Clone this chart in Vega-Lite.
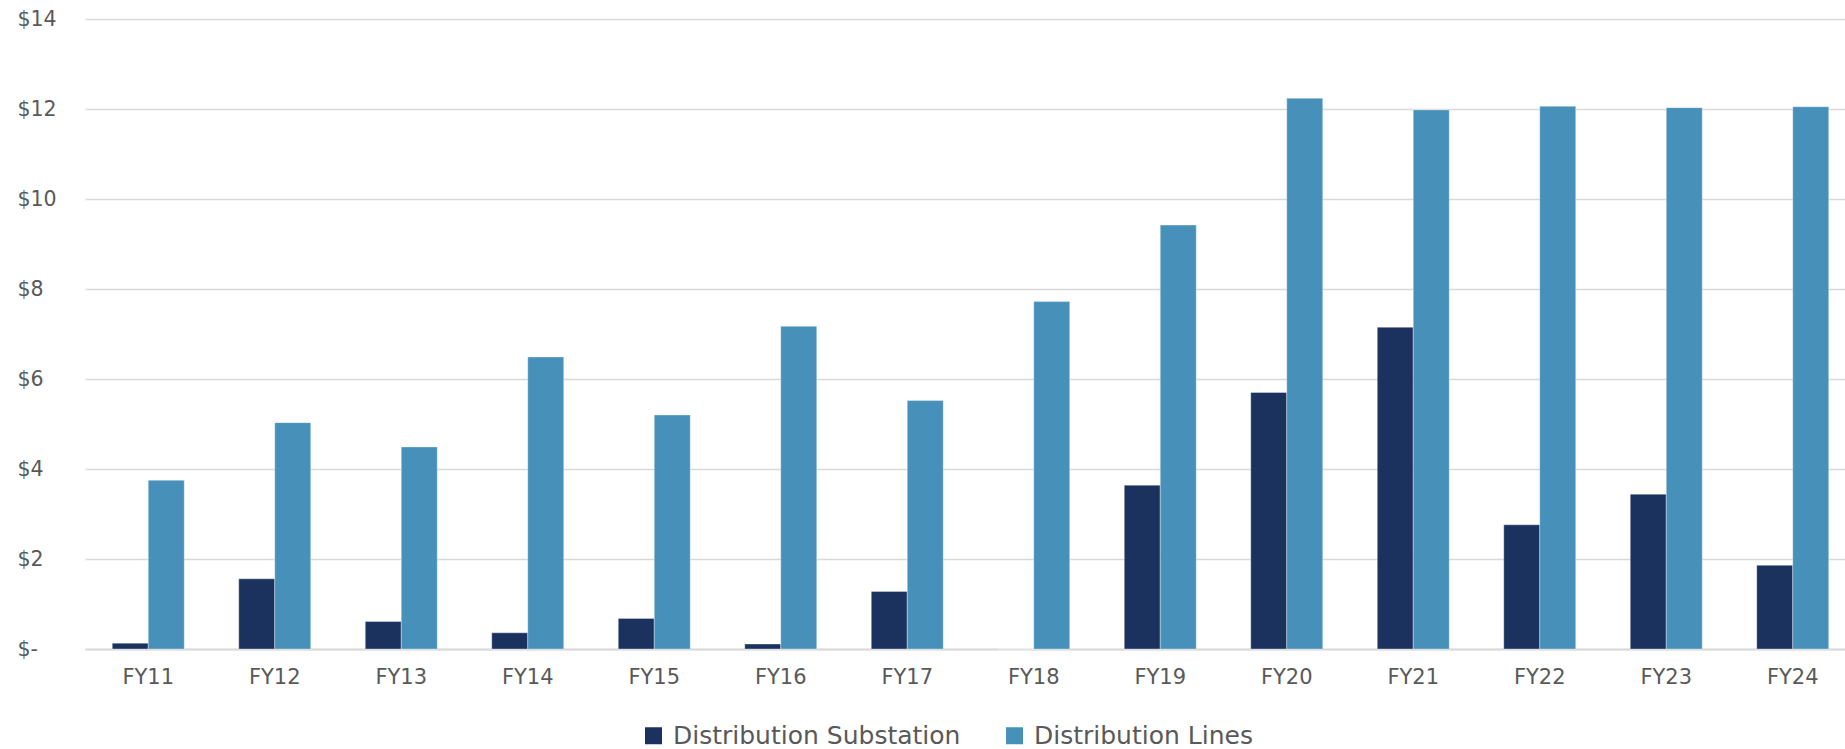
{
  "$schema": "https://vega.github.io/schema/vega-lite/v6.json",
  "width": 1760,
  "height": 630,
  "autosize": {"type": "none"},
  "padding": {"left": 85, "top": 19, "right": 0, "bottom": 100},
  "background": "white",
  "config": {
    "view": {"stroke": null},
    "font": "DejaVu Sans",
    "axis": {"labelFont": "DejaVu Sans", "labelColor": "#595959"},
    "legend": {"labelFont": "DejaVu Sans", "padding": 0}
  },
  "data": {
    "values": [
      {"year": "FY11", "series": "Distribution Substation", "value": 0.13},
      {"year": "FY11", "series": "Distribution Lines", "value": 3.75},
      {"year": "FY12", "series": "Distribution Substation", "value": 1.56},
      {"year": "FY12", "series": "Distribution Lines", "value": 5.03},
      {"year": "FY13", "series": "Distribution Substation", "value": 0.61},
      {"year": "FY13", "series": "Distribution Lines", "value": 4.49},
      {"year": "FY14", "series": "Distribution Substation", "value": 0.36},
      {"year": "FY14", "series": "Distribution Lines", "value": 6.49},
      {"year": "FY15", "series": "Distribution Substation", "value": 0.68},
      {"year": "FY15", "series": "Distribution Lines", "value": 5.2},
      {"year": "FY16", "series": "Distribution Substation", "value": 0.11},
      {"year": "FY16", "series": "Distribution Lines", "value": 7.17},
      {"year": "FY17", "series": "Distribution Substation", "value": 1.28},
      {"year": "FY17", "series": "Distribution Lines", "value": 5.52},
      {"year": "FY18", "series": "Distribution Substation", "value": 0},
      {"year": "FY18", "series": "Distribution Lines", "value": 7.72},
      {"year": "FY19", "series": "Distribution Substation", "value": 3.64},
      {"year": "FY19", "series": "Distribution Lines", "value": 9.42},
      {"year": "FY20", "series": "Distribution Substation", "value": 5.7},
      {"year": "FY20", "series": "Distribution Lines", "value": 12.24},
      {"year": "FY21", "series": "Distribution Substation", "value": 7.15},
      {"year": "FY21", "series": "Distribution Lines", "value": 11.98},
      {"year": "FY22", "series": "Distribution Substation", "value": 2.76},
      {"year": "FY22", "series": "Distribution Lines", "value": 12.06},
      {"year": "FY23", "series": "Distribution Substation", "value": 3.44},
      {"year": "FY23", "series": "Distribution Lines", "value": 12.03},
      {"year": "FY24", "series": "Distribution Substation", "value": 1.86},
      {"year": "FY24", "series": "Distribution Lines", "value": 12.05}
    ]
  },
  "mark": {"type": "bar", "stroke": "#ffffff", "strokeOpacity": 0.35, "strokeWidth": 1},
  "encoding": {
    "x": {
      "field": "year",
      "type": "nominal",
      "sort": null,
      "scale": {"paddingInner": 0.431, "paddingOuter": 0.2155, "range": [0, 1771]},
      "axis": {
        "title": null,
        "labelAngle": 0,
        "labelFontSize": 21,
        "labelPadding": 17,
        "ticks": false,
        "domain": true,
        "domainColor": "#d9d9d9",
        "domainWidth": 2,
        "grid": false
      }
    },
    "xOffset": {
      "field": "series",
      "type": "nominal",
      "sort": ["Distribution Substation", "Distribution Lines"],
      "scale": {"paddingInner": 0, "paddingOuter": 0}
    },
    "y": {
      "field": "value",
      "type": "quantitative",
      "scale": {"domain": [0, 14], "nice": false},
      "axis": {
        "title": null,
        "values": [0, 2, 4, 6, 8, 10, 12, 14],
        "labelExpr": "datum.value == 0 ? '$-' : '$' + datum.value",
        "labelFontSize": 20.5,
        "labelAlign": "left",
        "labelPadding": 68,
        "ticks": false,
        "tickSize": 0,
        "domain": false,
        "grid": true,
        "gridColor": "#d9d9d9",
        "gridWidth": 1.5
      }
    },
    "color": {
      "field": "series",
      "type": "nominal",
      "sort": ["Distribution Substation", "Distribution Lines"],
      "scale": {
        "domain": ["Distribution Substation", "Distribution Lines"],
        "range": ["#1b325f", "#4690ba"]
      },
      "legend": {
        "title": null,
        "orient": "none",
        "direction": "horizontal",
        "legendX": 556,
        "legendY": 704,
        "symbolType": "square",
        "symbolSize": 289,
        "symbolStrokeWidth": 0,
        "symbolOpacity": 1,
        "labelFontSize": 25,
        "labelColor": "#595959",
        "labelOffset": 7,
        "columnPadding": 41,
        "labelLimit": 500
      }
    }
  }
}
